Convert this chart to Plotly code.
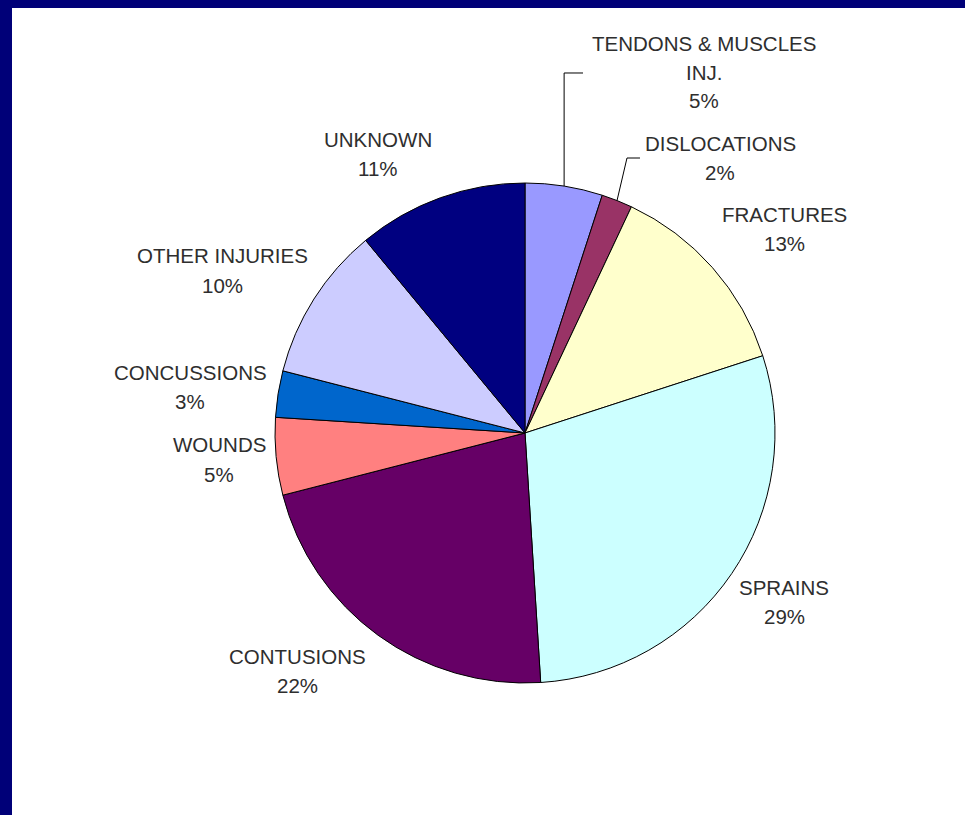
import math
import plotly.graph_objects as go

# ---- data ----
categories = ["TENDONS & MUSCLES INJ.", "DISLOCATIONS", "FRACTURES", "SPRAINS",
              "CONTUSIONS", "WOUNDS", "CONCUSSIONS", "OTHER INJURIES", "UNKNOWN"]
values = [5, 2, 13, 29, 22, 5, 3, 10, 11]
label_lines = [["TENDONS & MUSCLES", "INJ."], ["DISLOCATIONS"], ["FRACTURES"], ["SPRAINS"],
               ["CONTUSIONS"], ["WOUNDS"], ["CONCUSSIONS"], ["OTHER INJURIES"], ["UNKNOWN"]]
colors = ["#9999FF", "#993366", "#FFFFCC", "#CCFFFF", "#660066",
          "#FF8080", "#0066CC", "#CCCCFF", "#000080"]

# ---- layout (pixels) ----
W, H = 965, 815
CX, CY, R = 525, 433, 250
# label anchor (x center, y of first line) in pixels
label_pos = [(704, 43), (720, 143), (784, 214), (784, 587), (297, 656),
             (219, 445), (190, 372), (222, 256), (378, 139)]
LINE_GAP = 29
# leader elbows: (list of points after the pie edge)
leaders = {0: [(None, 73), (583, 73)], 1: [(627, 158), (640, 158)]}

def px(x):
    return x / W

def py(y):
    return 1 - y / H

fig = go.Figure()
fig.add_trace(go.Pie(
    labels=categories, values=values, sort=False, direction="clockwise", rotation=0,
    marker=dict(colors=colors, line=dict(color="#000000", width=1)),
    textinfo="none", hoverinfo="label+percent", showlegend=False,
    domain=dict(x=[px(CX - R), px(CX + R)], y=[py(CY + R), py(CY - R)]),
))

total = sum(values)
annotations = []
for i, (lines, v) in enumerate(zip(label_lines, values)):
    x0, y0 = label_pos[i]
    pct = f"{round(100 * v / total)}%"
    for j, t in enumerate(lines + [pct]):
        annotations.append(dict(
            x=px(x0), y=py(y0 + j * LINE_GAP), xref="paper", yref="paper",
            text=t, showarrow=False, xanchor="center", yanchor="middle",
            font=dict(family="Liberation Sans, Arial, sans-serif", size=20.5, color="#2e2e2e"),
        ))

shapes = [dict(type="rect", xref="paper", yref="paper", x0=px(12), x1=1, y0=0, y1=py(8),
               fillcolor="white", line=dict(width=0), layer="below")]

cum = 0
for i, v in enumerate(values):
    mid = (cum + v / 2) / total * 2 * math.pi
    cum += v
    if i in leaders:
        ex = CX + R * math.sin(mid)
        ey = CY - R * math.cos(mid)
        pts = [(ex, ey)]
        for (lx, ly) in leaders[i]:
            pts.append((ex if lx is None else lx, ly))
        path = "M " + " L ".join(f"{px(a):.5f},{py(b):.5f}" for a, b in pts)
        shapes.append(dict(type="path", xref="paper", yref="paper", path=path,
                           line=dict(color="#000000", width=1)))

fig.update_layout(
    width=W, height=H, margin=dict(l=0, r=0, t=0, b=0),
    paper_bgcolor="#000078", plot_bgcolor="white",
    annotations=annotations, shapes=shapes,
)
fig.write_html(
    "out.html",
    config={"displayModeBar": False},
    post_script="document.body.style.margin='0';document.body.style.overflow='hidden';",
)
